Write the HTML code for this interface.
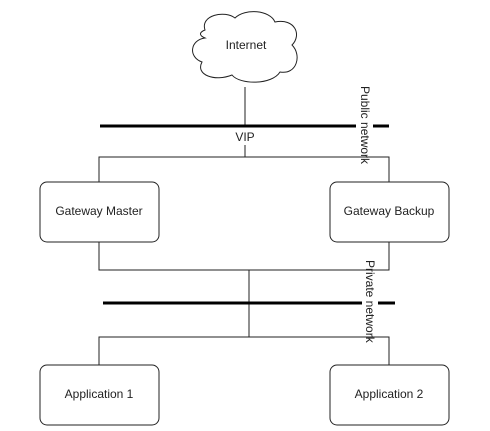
<!DOCTYPE html>
<html><head><style>html,body{margin:0;padding:0;background:#fff;width:490px;height:431px;overflow:hidden}</style></head>
<body>
<svg width="490" height="431" viewBox="0 0 490 431" xmlns="http://www.w3.org/2000/svg" font-family="Liberation Sans, sans-serif" font-size="12" fill="none" stroke="#222">
<path d="M205,30 C200,15 225,10 235,18 C245,8 270,10 275,22 C295,18 302,35 292,45 C302,55 297,75 280,72 C272,85 240,85 232,75 C215,82 195,75 202,62 C188,57 190,40 205,38 C198,35 200,32 205,30 Z" fill="#fff" stroke-width="1"/>
<text x="246" y="49" fill="#222" stroke="none" text-anchor="middle">Internet</text>
<line x1="245" y1="87" x2="245" y2="126" stroke-width="1"/>
<line x1="100" y1="126" x2="356" y2="126" stroke="#000" stroke-width="3"/>
<line x1="373" y1="126" x2="389" y2="126" stroke="#000" stroke-width="3"/>
<text x="245" y="141" fill="#222" stroke="none" text-anchor="middle">VIP</text>
<line x1="245" y1="145" x2="245" y2="157" stroke-width="1"/>
<polyline points="99,182 99,157 389,157 389,182" stroke-width="1"/>
<text transform="translate(361,86) rotate(90)" fill="#222" stroke="none">Public network</text>
<rect x="40" y="182" width="119" height="60" rx="7" fill="#fff" stroke-width="1"/>
<rect x="330" y="182" width="119" height="60" rx="7" fill="#fff" stroke-width="1"/>
<text x="99" y="215" fill="#222" stroke="none" text-anchor="middle">Gateway Master</text>
<text x="389" y="215" fill="#222" stroke="none" text-anchor="middle">Gateway Backup</text>
<polyline points="99,242 99,270 389,270 389,242" stroke-width="1"/>
<line x1="249" y1="270" x2="249" y2="337" stroke-width="1"/>
<line x1="103" y1="303" x2="362" y2="303" stroke="#000" stroke-width="3"/>
<line x1="378" y1="303" x2="395" y2="303" stroke="#000" stroke-width="3"/>
<text transform="translate(366,260) rotate(90)" fill="#222" stroke="none">Private network</text>
<polyline points="99,365 99,337 389,337 389,365" stroke-width="1"/>
<rect x="40" y="365" width="119" height="60" rx="7" fill="#fff" stroke-width="1"/>
<rect x="330" y="365" width="119" height="60" rx="7" fill="#fff" stroke-width="1"/>
<text x="99" y="398" fill="#222" stroke="none" text-anchor="middle">Application 1</text>
<text x="389" y="398" fill="#222" stroke="none" text-anchor="middle">Application 2</text>
</svg>
</body></html>
